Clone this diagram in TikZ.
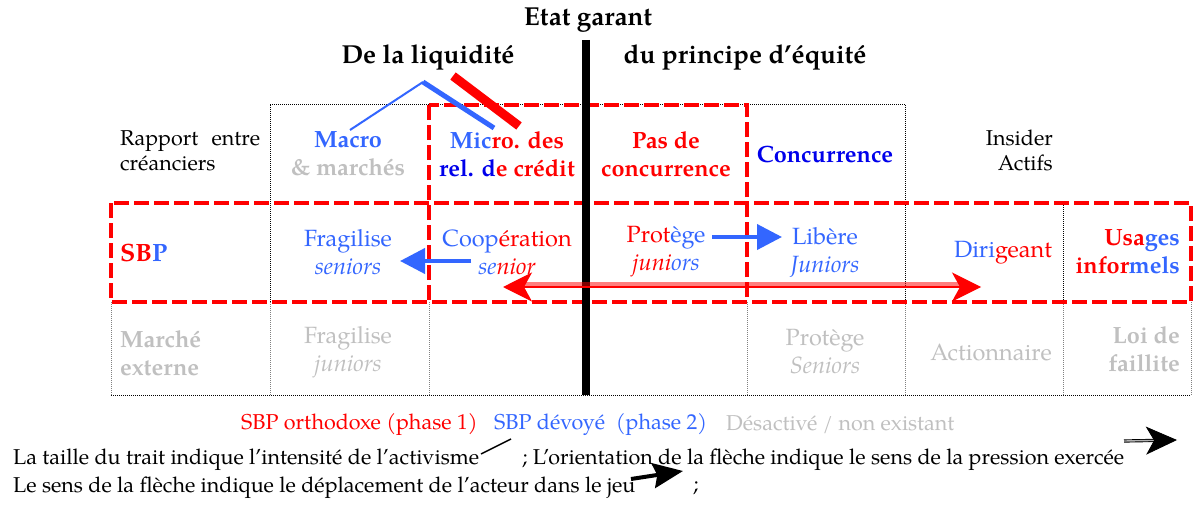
\documentclass[tikz,border=0pt]{standalone}
\usepackage{fontspec}
\setmainfont{TeX Gyre Pagella}
\usetikzlibrary{arrows.meta}
\definecolor{cred}{RGB}{255,0,0}
\definecolor{lblue}{RGB}{51,102,255}
\definecolor{dblue}{RGB}{0,0,235}
\definecolor{lgray}{RGB}{192,192,192}
\begin{document}
\begin{tikzpicture}[x=1pt,y=-1pt,
  lab/.style={inner sep=0pt, font=\fontsize{21.5}{25}\selectfont},
  cell/.style={inner sep=0pt, font=\fontsize{23.5}{28}\selectfont, align=center},
  cellb/.style={inner sep=0pt, font=\fontsize{23.5}{28}\selectfont\bfseries, align=center},
  ttl/.style={inner sep=0pt, font=\fontsize{26}{30}\selectfont\bfseries},
  rdash/.style={draw=cred, line width=4pt, dash pattern=on 15pt off 5pt},
  kdot/.style={draw=black, line width=1pt, dash pattern=on 1pt off 1pt},
  gdot/.style={draw=gray, line width=1pt, dash pattern=on 1pt off 1pt},
  barrow/.style={draw=lblue, line width=4pt, -{Triangle[length=25pt,width=25pt]}},
]
\useasboundingbox (0,0) rectangle (1196,508);
\fill[white] (0,0) rectangle (1196,508);

% grid
\draw[kdot] (270,105) -- (905,105);
\draw[kdot] (270,105) -- (270,302);
\draw[kdot] (905,105) -- (905,302);
\draw[kdot] (1063,203) -- (1063,302);
\foreach \x in {111,270,429,747,905,1063,1191}
  \draw[gdot] (\x,302) -- (\x,395);
\draw[kdot] (111,395) -- (1191,395);
\draw[rdash] (429,105) rectangle (747,302);
\draw[rdash] (111,203) rectangle (1191,302);
\draw[line width=8pt] (586,40) -- (586,395);

% titles
\node[ttl] (etat) at (588,20) {Etat garant};
\node[ttl] (liq) at (428,57) {De la liquidité};
\node[ttl] (equ) at (745,57) {du principe d’équité};

% header row
\node[lab, anchor=west, align=left] (rapport) at (120,150.5) {\makebox[140pt][s]{Rapport entre}\\créanciers};
\node[cellb] (macro) at (348,153.5) {\textcolor{lblue}{Macro}\\\textcolor{lgray}{\& marchés}};
\node[cellb] (micro) at (507,154) {\textcolor{lblue}{Mic}\textcolor{cred}{ro. des}\\\textcolor{dblue}{rel. d}\textcolor{cred}{e crédit}};
\node[cellb, text=cred] (pasconc) at (666,154) {Pas de\\concurrence};
\node[cellb, text=dblue] (conc) at (825,155) {Concurrence};
\node[lab, anchor=east, align=right] (insider) at (1053,150.5) {Insider\\Actifs};

% SBP row
\node[inner sep=0pt, font=\fontsize{25}{28}\selectfont\bfseries, anchor=west] (sbp) at (120,253) {\textcolor{cred}{SB}\textcolor{lblue}{P}};
\node[cell, text=lblue] (frag) at (348,252) {Fragilise\\\textit{seniors}};
\node[cell] (coop) at (507,252) {\textcolor{lblue}{Coop}\textcolor{cred}{ération}\\\textit{\textcolor{lblue}{se}\textcolor{cred}{nior}}};
\node[cell] (prot) at (666,252) {\textcolor{cred}{Prot}\textcolor{lblue}{ège}\\\textit{\textcolor{cred}{juni}\textcolor{lblue}{ors}}};
\node[cell, text=lblue] (libere) at (825,252) {Libère\\\textit{Juniors}};
\node[cell] (dirig) at (1003,253) {\textcolor{lblue}{Diri}\textcolor{cred}{geant}};
\node[cellb, anchor=east, align=right] (usages) at (1180,252) {\textcolor{cred}{Usa}\textcolor{lblue}{ges}\\\textcolor{cred}{infor}\textcolor{lblue}{mels}};

% market row
\node[cellb, text=lgray, anchor=west, align=left] (marche) at (120,353) {Marché\\externe};
\node[cell, text=lgray] (fragj) at (348,352) {Fragilise\\\textit{juniors}};
\node[cell, text=lgray] (prots) at (825,352) {Protège\\\textit{Seniors}};
\node[cell, text=lgray] (action) at (991,353) {Actionnaire};
\node[cellb, text=lgray, anchor=east, align=right] (loi) at (1180,349) {Loi de\\faillite};

% strokes from the title
\coordinate (apex) at (423,82);
\coordinate (macroTop) at (350,130);
\coordinate (microTop) at (494,128);
\coordinate (redA) at (453,76);
\coordinate (redB) at (519,126);
\draw[lblue, line width=2pt] (macroTop) -- (apex);
\draw[lblue, line width=5pt] (apex) -- (microTop);
\draw[cred, line width=9pt] (redA) -- (redB);

% arrows in the SBP row
\coordinate (b1s) at (471,261);
\coordinate (b1e) at (400,261);
\draw[barrow] (b1s) -- (b1e);
\coordinate (b2s) at (712,237);
\coordinate (b2e) at (782,237);
\draw[barrow] (b2s) -- (b2e);
\coordinate (dl) at (503,285);
\coordinate (dr) at (981,285);
\draw[cred, opacity=0.5, line width=4pt, shorten <=20pt, shorten >=20pt] ([yshift=1.5pt]dl) -- ([yshift=1.5pt]dr);
\draw[cred, line width=1.3pt, {Stealth[length=29pt,width=29pt,inset=8pt]}-{Stealth[length=29pt,width=29pt,inset=8pt]}] ([yshift=-2pt]dl) -- ([yshift=-2pt]dr);

% legend
\node[lab, anchor=west, text=cred] (lg1) at (241,425) {SBP orthodoxe (phase 1)};
\node[lab, anchor=west, text=lblue] (lg2) at (494,425) {SBP dévoyé\ \ (phase 2)};
\node[lab, anchor=west, text=lgray] (lg3) at (726,425) {Désactivé / non existant};
\node[lab, anchor=west] (n1) at (13,460) {La taille du trait indique l’intensité de l’activisme};
\node[lab, anchor=west] (n2) at (522,460) {; L’orientation de la flèche indique le sens de la pression exercée};
\node[lab, anchor=west] (n3) at (13,488) {Le sens de la flèche indique le déplacement de l’acteur dans le jeu};
\node[lab, anchor=west] (n4) at (693,488) {;};

\coordinate (s1) at (481,454);
\coordinate (s2) at (511,439);
\draw[line width=1.5pt] (s1) -- (s2);
\coordinate (k1) at (631,479);
\coordinate (k2) at (683,471);
\draw[line width=4pt, -{Stealth[length=30pt,width=25pt,inset=4pt]}] (k1) -- (k2);
\coordinate (d1) at (1124,441);
\coordinate (d2) at (1177,440);
\draw[line width=0.9pt, double=gray!60, double distance=1.4pt, -{Stealth[length=31pt,width=28pt,inset=8pt]}] (d1) -- (d2);
\end{tikzpicture}
\end{document}
